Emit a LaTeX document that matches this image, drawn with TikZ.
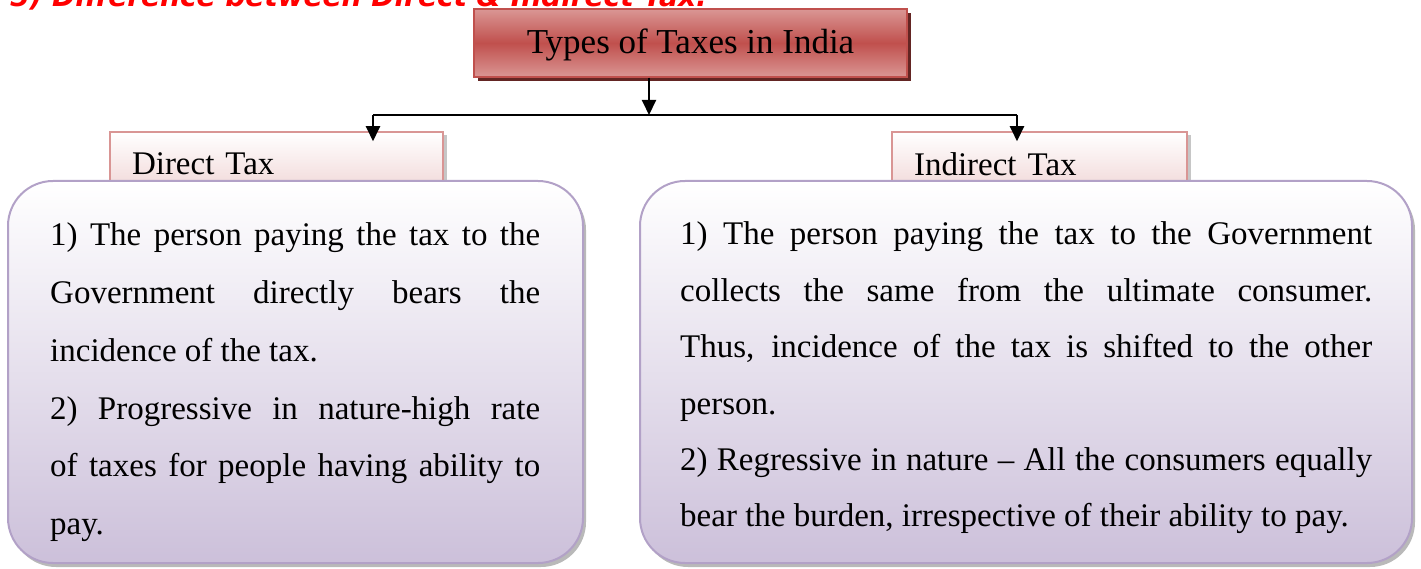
\documentclass[tikz,border=0pt]{standalone}
\usepackage{fontspec}
\setmainfont{Liberation Serif}
\newfontfamily\headfont{DejaVu Sans}
\usetikzlibrary{shadows,arrows.meta,positioning}
\definecolor{titlered}{HTML}{C0504D}
\definecolor{titlepink}{HTML}{DA9694}
\definecolor{titleshadow}{HTML}{632523}
\definecolor{tabline}{HTML}{D99594}
\definecolor{tabpink}{HTML}{F0D4D4}
\definecolor{boxline}{HTML}{B2A1C7}
\definecolor{boxfill}{HTML}{CCC0DA}
\setlength{\parindent}{0pt}

\begin{document}
\begin{tikzpicture}[x=1pt, y=-1pt,
    bigfont/.style={font=\fontsize{33}{40}\selectfont},
    titlebox/.style={draw=titlered, line width=1.5pt, top color=titlepink, bottom color=titlepink,
        middle color=titlered, minimum width=433pt, minimum height=68pt,
        font=\fontsize{35}{40}\selectfont, text height=24pt, text depth=3pt,
        drop shadow={shadow xshift=4pt, shadow yshift=-4pt, fill=titleshadow, opacity=1}},
    tabbox/.style={draw=tabline, line width=1.5pt, top color=white, bottom color=tabpink,
        minimum height=64pt, inner xsep=22pt, align=left, bigfont,
        drop shadow={shadow xshift=4pt, shadow yshift=-3pt, fill=gray!45, opacity=1}},
    bigbox/.style={draw=boxline, line width=2pt, top color=white, bottom color=boxfill,
        rounded corners=45pt,
        drop shadow={shadow xshift=3pt, shadow yshift=-4pt, fill=gray!55, opacity=1}},
    points/.style={anchor=base west, inner sep=0pt, align=justify},
    link/.style={line width=2pt},
    arr/.style={link, -{Triangle[width=14pt,length=15pt]}}]
    \useasboundingbox (0,0) rectangle (1421,569);

    % Heading, cut off at the top
    \begin{scope}
        \clip (0,0) rectangle (1421,569);
        \node[anchor=base west, inner sep=0pt, text=red,
            font=\headfont\bfseries\itshape\fontsize{28}{32}\selectfont] (heading) at (10,7)
            {5) Difference between Direct \& Indirect Tax.};
    \end{scope}

    % Top box
    \node[titlebox] (title) at (690.5,43) {Types of Taxes in India};

    % Tabs
    \node[tabbox, text width=289pt] (dtab) at (276.5,164) {Direct Tax};
    \node[tabbox, text width=251pt] (itab) at (1039.5,164) {Indirect Tax};

    % Boxes
    \node[bigbox, minimum width=575pt, minimum height=382pt] (dbox) at (295.5,372) {};
    \node[bigbox, minimum width=772pt, minimum height=382pt] (ibox) at (1026,372) {};

    \node[points, text width=490pt, font=\fontsize{33}{57.7}\selectfont] (dtext) at (50,246)
        {1) The person paying the tax to the\linebreak Government directly bears the\linebreak
         incidence of the tax.\par
         2) Progressive in nature-high rate\linebreak of taxes for people having ability to\linebreak pay.};
    \node[points, text width=692pt, font=\fontsize{33}{56.4}\selectfont] (itext) at (680,245)
        {1) The person paying the tax to the Government\linebreak collects the same from the ultimate consumer.\linebreak
         Thus, incidence of the tax is shifted to the other\linebreak person.\par
         2) Regressive in nature -- All the consumers equally\linebreak bear the burden, irrespective of their ability to pay.};

    % Connectors
    \coordinate (fork) at (649,115);
    \coordinate (kneel) at (373,115);
    \coordinate (kneer) at (1017,115);
    \draw[link] (kneel) -- (kneer);
    \draw[arr] (title.south -| fork) -- (fork);
    \draw[arr, shorten >=-10pt] (kneel) -- (kneel |- dtab.north);
    \draw[arr, shorten >=-10pt] (kneer) -- (kneer |- itab.north);
\end{tikzpicture}
\end{document}
